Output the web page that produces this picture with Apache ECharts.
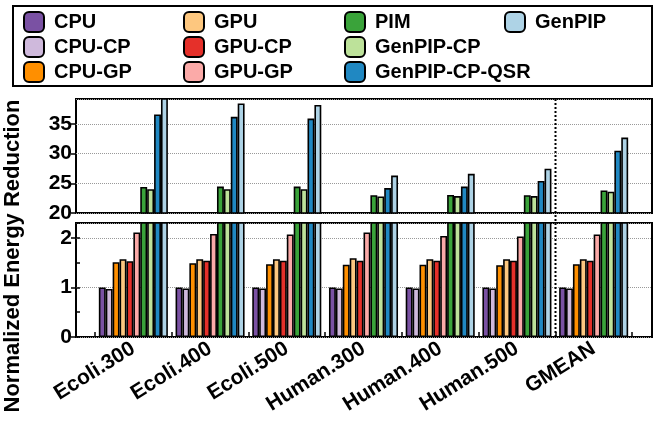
<!DOCTYPE html>
<html><head><meta charset="utf-8">
<script src="https://cdn.jsdelivr.net/npm/echarts@6/dist/echarts.min.js"></script>
<style>html,body{margin:0;padding:0;background:#fff}#c{width:660px;height:424px}</style>
</head><body><div id="c"></div>
<script>
const categories = ['Ecoli.300','Ecoli.400','Ecoli.500','Human.300','Human.400','Human.500','GMEAN'];
const seriesNames = ['CPU','CPU-CP','CPU-GP','GPU','GPU-CP','GPU-GP','PIM','GenPIP-CP','GenPIP-CP-QSR','GenPIP'];
const cpu       = [1.00, 1.00, 1.00, 1.00, 1.00, 1.00, 1.00];
const cpuCP     = [0.97, 0.98, 0.98, 0.98, 0.98, 0.98, 0.98];
const cpuGP     = [1.51, 1.49, 1.47, 1.46, 1.46, 1.45, 1.47];
const gpu       = [1.57, 1.57, 1.57, 1.59, 1.57, 1.57, 1.57];
const gpuCP     = [1.53, 1.54, 1.54, 1.54, 1.54, 1.54, 1.54];
const gpuGP     = [2.11, 2.08, 2.07, 2.11, 2.04, 2.03, 2.07];
const pim       = [24.4, 24.45, 24.45, 23.0, 23.05, 23.0, 23.8];
const genpipCP  = [24.0, 24.0, 24.0, 22.8, 22.85, 22.85, 23.6];
const genpipQSR = [36.6, 36.2, 35.9, 24.2, 24.45, 25.4, 30.5];
const genpip    = [39.5, 38.45, 38.2, 26.3, 26.6, 27.45, 32.7];
const topTicks = [20, 25, 30, 35];
const bottomTicks = [0, 1, 2];

const seriesValues = [cpu, cpuCP, cpuGP, gpu, gpuCP, gpuGP, pim, genpipCP, genpipQSR, genpip];
const colors = ['#7a51a3','#cfb9dc','#ff8f00','#fdc77f','#e5302a','#fbaaa8','#3aa33a','#bde29a','#2088c2','#aed3e6'];
const FONT = 'Liberation Sans';
const topMin = topTicks[0], topMax = 39.2, botMin = bottomTicks[0], botMax = 2.3;

const chart = echarts.init(document.getElementById('c'), null, {renderer: 'canvas'});

const series = [];
seriesNames.forEach((n, i) => {
  const common = {
    name: n, type: 'bar', barGap: 0, barCategoryGap: '10%',
    itemStyle: {color: colors[i], borderColor: '#000', borderWidth: 1.6},
    emphasis: {disabled: true}, animation: false, data: seriesValues[i]
  };
  series.push(Object.assign({}, common, {xAxisIndex: 1, yAxisIndex: 1}));
  series.push(Object.assign({}, common, {xAxisIndex: 3, yAxisIndex: 3}));
});

function legendCol(left, data) {
  return {
    left: left, top: 11, padding: 0, orient: 'vertical', itemWidth: 20, itemHeight: 20, itemGap: 3,
    icon: 'roundRect', selectedMode: false, data: data,
    textStyle: {fontFamily: FONT, fontWeight: 'bold', fontSize: 20, color: '#000', padding: [0, 0, 0, 5]}
  };
}

const frameY = (min, max, interval) => ({
  type: 'value', position: 'left', min: min, max: max, interval: interval,
  axisLine: {show: false},
  axisTick: {show: true, inside: false, length: 5, lineStyle: {color: '#000', width: 1.5}},
  axisLabel: {showMaxLabel: false, fontFamily: FONT, fontWeight: 'bold', fontSize: 21, color: '#000', margin: 4},
  splitLine: {show: true, lineStyle: {type: 'dotted', color: '#999', width: 1}}
});

const option = {
  animation: false,
  backgroundColor: '#fff',
  legend: [
    legendCol(23, seriesNames.slice(0, 3)),
    legendCol(183, seriesNames.slice(3, 6)),
    legendCol(344, seriesNames.slice(6, 9)),
    legendCol(504, seriesNames.slice(9, 10))
  ],
  grid: [
    {left: 76, right: 8, top: 99, height: 114, show: true, borderColor: '#000', borderWidth: 2, backgroundColor: 'transparent'},
    {left: 95, right: 28, top: 99, height: 114},
    {left: 76, right: 8, top: 223, height: 114, show: true, borderColor: '#000', borderWidth: 2, backgroundColor: 'transparent'},
    {left: 95, right: 28, top: 223, height: 114}
  ],
  xAxis: [
    {gridIndex: 0, type: 'value', min: 0, max: 1, show: false},
    {gridIndex: 1, type: 'category', data: categories, show: false},
    {gridIndex: 2, type: 'value', min: 0, max: 1, show: false},
    {gridIndex: 3, type: 'category', data: categories,
     axisLine: {show: false},
     axisTick: {show: true, inside: true, length: 5, lineStyle: {color: '#000', width: 1.5}},
     axisLabel: {rotate: 32, interval: 0, fontFamily: FONT, fontWeight: 'bold', fontSize: 21, color: '#000', margin: 10}}
  ],
  yAxis: [
    Object.assign(frameY(topMin, topMax, topTicks[1] - topTicks[0]), {gridIndex: 0}),
    {gridIndex: 1, type: 'value', min: topMin, max: topMax, show: false},
    Object.assign(frameY(botMin, botMax, bottomTicks[1] - bottomTicks[0]), {gridIndex: 2}),
    {gridIndex: 3, type: 'value', min: botMin, max: botMax, show: false},
    {gridIndex: 2, type: 'value', position: 'left', offset: 0, min: botMin, max: botMax, interval: 0.5,
     axisLine: {show: false}, axisLabel: {show: false}, splitLine: {show: false},
     axisTick: {show: true, inside: true, length: 4, lineStyle: {color: '#000', width: 1.5}}}
  ],
  graphic: [
    {id: 'legbox', type: 'rect', shape: {x: 13, y: 6, width: 639, height: 80}, style: {fill: 'none', stroke: '#000', lineWidth: 2}, z: 100},
    {id: 'ytitle', type: 'text', x: 13, y: 256, rotation: Math.PI / 2,
     style: {text: 'Normalized Energy Reduction', font: 'bold 22px "Liberation Sans"', fill: '#000', textAlign: 'center', textVerticalAlign: 'middle'}}
  ],
  series: series
};
chart.setOption(option);

// dotted separator between Human.500 and GMEAN, located through the category axis scale
const xa = chart.convertToPixel({xAxisIndex: 3}, categories[5]);
const xb = chart.convertToPixel({xAxisIndex: 3}, categories[6]);
const xs = Math.round((xa + xb) / 2) + 0.5;
const yTop = chart.convertToPixel({yAxisIndex: 1}, topMax);
const yBot = chart.convertToPixel({yAxisIndex: 3}, botMin);
chart.setOption({graphic: [{id: 'sep', type: 'line', shape: {x1: xs, y1: yTop, x2: xs, y2: yBot},
  style: {stroke: '#000', lineWidth: 2, lineDash: [2, 2]}, z: 50}]});
</script></body></html>
